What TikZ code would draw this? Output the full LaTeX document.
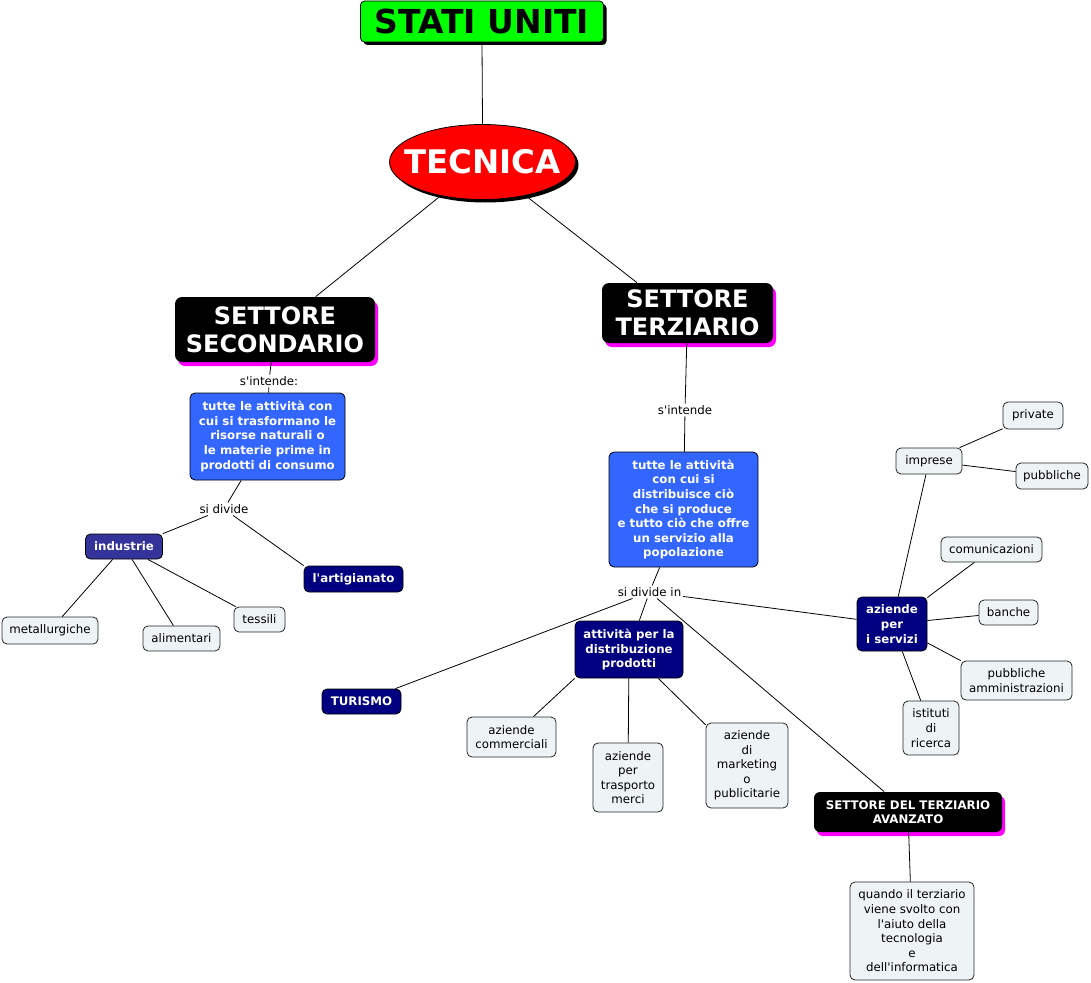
\documentclass[tikz,border=0pt]{standalone}
\usepackage{fontspec}
\setmainfont{DejaVu Sans}
\usetikzlibrary{shapes.geometric,shadows}
\definecolor{mapgreen}{RGB}{0,255,0}
\definecolor{mapred}{RGB}{255,0,0}
\definecolor{mapblue}{RGB}{51,102,255}
\definecolor{mapnavy}{RGB}{0,0,128}
\definecolor{mapviolet}{RGB}{51,51,153}
\definecolor{mapgrey}{RGB}{238,243,246}
\definecolor{mappink}{RGB}{255,0,255}
\begin{document}
\begin{tikzpicture}[x=1pt,y=-1pt,line width=0.8pt,
        box/.style={draw=black!85,line width=0.8pt,rounded corners=5pt,fill=mapgrey,align=center,inner sep=0pt,font=\fontsize{11.8}{14.6}\selectfont},
        dark/.style={box,draw=black,fill=mapnavy,text=white,font=\fontsize{11.8}{14.6}\selectfont\bfseries},
        sector/.style={rounded corners=7pt,fill=black,text=white,align=center,inner sep=0pt,font=\fontsize{24}{28}\selectfont\bfseries,drop shadow={shadow xshift=3pt,shadow yshift=-4pt,fill=mappink,opacity=1}},
        lbl/.style={inner sep=1.5pt,font=\fontsize{11.8}{14.6}\selectfont}]
        \useasboundingbox[fill=white] (0,0) rectangle (1091,982);

        \node[draw,fill=mapgreen,rounded corners=4pt,minimum width=243pt,minimum height=41pt,inner sep=0pt,font=\fontsize{33}{36}\selectfont\bfseries,drop shadow={shadow xshift=3pt,shadow yshift=-3pt,fill=black,opacity=1}] (stati) at (482,21.5) {STATI UNITI};
        \node[ellipse,draw,fill=mapred,text=white,minimum width=186pt,minimum height=75pt,inner xsep=-14pt,inner ysep=0pt,font=\fontsize{32.5}{36}\selectfont\bfseries,drop shadow={shadow xshift=3pt,shadow yshift=-3pt,fill=black,opacity=1}] (tec) at (482.5,162) {TECNICA};
        \path[draw] (stati.south) -- (tec.north);

        \node[sector,minimum width=200pt,minimum height=65pt] (sec) at (275,329.5) {SETTORE\\SECONDARIO};
        \node[sector,minimum width=171pt,minimum height=60pt] (ter) at (687.5,313) {SETTORE\\TERZIARIO};
        \path[draw] (tec) -- (sec);
        \path[draw] (tec) -- (ter.149);

        \node[lbl] (l1) at (269,381) {s\textquotesingle intende:};
        \node[dark,fill=mapblue,minimum width=155pt,minimum height=87pt] (def1) at (267.5,436.5) {tutte le attività con\\cui si trasformano le\\risorse naturali o\\le materie prime in\\prodotti di consumo};
        \node[lbl] (l2) at (224,509) {si divide};
        \node[dark,fill=mapviolet,minimum width=77pt,minimum height=25pt] (ind) at (124,546.5) {industrie};
        \node[dark,minimum width=99pt,minimum height=26pt] (art) at (353.5,579) {l\textquotesingle artigianato};
        \node[box,minimum width=96pt,minimum height=27pt] (met) at (50,630.5) {metallurgiche};
        \node[box,minimum width=77pt,minimum height=25pt] (ali) at (181.5,638.5) {alimentari};
        \node[box,minimum width=51pt,minimum height=25pt] (tes) at (259.5,619.5) {tessili};
        \path[draw] (sec) -- (l1);
        \path[draw] (l1) -- (def1);
        \path[draw] (def1) -- (l2);
        \path[draw] (l2) -- (ind.north east);
        \path[draw] (l2) -- (art.north west);
        \path[draw] (ind) -- (met);
        \path[draw] (ind) -- (ali);
        \path[draw] (ind) -- (tes);

        \node[lbl] (l3) at (685,410) {s\textquotesingle intende};
        \node[dark,fill=mapblue,minimum width=149pt,minimum height=115pt] (def2) at (683.5,509.5) {tutte le attività\\con cui si\\distribuisce ciò\\che si produce\\e tutto ciò che offre\\un servizio alla\\popolazione};
        \node[lbl] (l4) at (649.5,592) {si divide in};
        \path[draw] (ter) -- (l3);
        \path[draw] (l3) -- (def2);
        \path[draw] (def2) -- (l4);

        \node[dark,minimum width=79pt,minimum height=25pt] (tur) at (361.5,701.5) {TURISMO};
        \node[dark,minimum width=108pt,minimum height=57pt] (dist) at (629,649.5) {attività per la\\distribuzione\\prodotti};
        \node[box,minimum width=89pt,minimum height=40pt] (comm) at (511.5,737) {aziende\\commerciali};
        \node[box,minimum width=70pt,minimum height=69pt] (tras) at (628,777.5) {aziende\\per\\trasporto\\merci};
        \node[box,minimum width=82pt,minimum height=85pt] (mark) at (747,765.5) {aziende\\di\\marketing\\o\\publicitarie};
        \path[draw] (l4) -- (tur);
        \path[draw] (l4) -- (dist);
        \path[draw] (dist.south west) -- (comm);
        \path[draw] (dist) -- (tras);
        \path[draw] (dist) -- (mark);

        \node[sector,minimum width=188pt,minimum height=40pt,rounded corners=6pt,font=\fontsize{11.8}{14.6}\selectfont\bfseries] (avz) at (908,812) {SETTORE DEL TERZIARIO\\AVANZATO};
        \node[box,minimum width=124pt,minimum height=98pt] (quando) at (912,931) {quando il terziario\\viene svolto con\\l\textquotesingle aiuto della\\tecnologia\\e\\dell\textquotesingle informatica};
        \path[draw] (l4) -- (avz);
        \path[draw] (avz) -- (quando);

        \node[dark,minimum width=70pt,minimum height=54pt] (serv) at (892,624) {aziende\\per\\i servizi};
        \node[box,minimum width=66pt,minimum height=26pt] (imp) at (929,461) {imprese};
        \node[box,minimum width=60pt,minimum height=27pt] (priv) at (1033,415.5) {private};
        \node[box,minimum width=72pt,minimum height=26pt] (pubb) at (1052,476) {pubbliche};
        \node[box,minimum width=101pt,minimum height=25pt] (com) at (991.5,549.5) {comunicazioni};
        \node[box,minimum width=59pt,minimum height=25pt] (ban) at (1008.5,612.5) {banche};
        \node[box,minimum width=111pt,minimum height=39pt] (pa) at (1016.5,680.5) {pubbliche\\amministrazioni};
        \node[box,minimum width=56pt,minimum height=54pt] (ist) at (931,728) {istituti\\di\\ricerca};
        \path[draw] (l4) -- (serv);
        \path[draw] (serv) -- (imp);
        \path[draw] (imp) -- (priv);
        \path[draw] (imp) -- (pubb);
        \path[draw] (serv) -- (com);
        \path[draw] (serv) -- (ban);
        \path[draw] (serv) -- (pa.north west);
        \path[draw] (serv) -- (ist);
\end{tikzpicture}
\end{document}
